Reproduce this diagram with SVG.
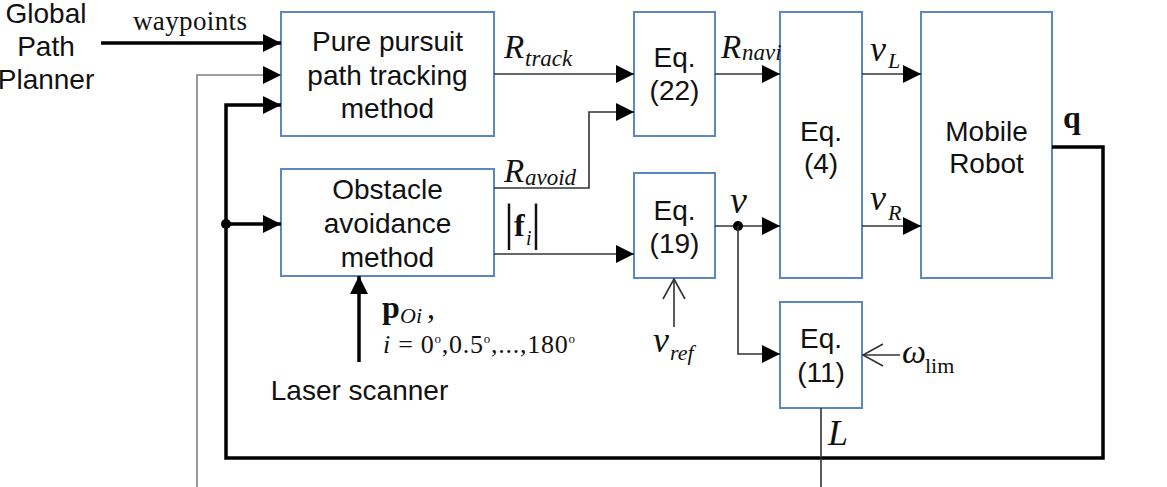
<svg xmlns="http://www.w3.org/2000/svg" width="1167" height="487" viewBox="0 0 1167 487">
<style>
.box{fill:#fff;stroke:#5b87c5;stroke-width:2}
.lbl{font-family:"Liberation Sans",Arial,sans-serif;font-size:28px;fill:#111;text-anchor:middle}
.mi{font-family:"Liberation Serif","Times New Roman",serif;font-style:italic;fill:#111}
.rm{font-family:"Liberation Serif","Times New Roman",serif;fill:#111}
.bd{font-family:"Liberation Serif","Times New Roman",serif;font-weight:bold;fill:#111}
.thin{fill:none;stroke:#333;stroke-width:1.6}
.gray{fill:none;stroke:#808080;stroke-width:1.6}
.thick{fill:none;stroke:#000;stroke-width:3.5}
.open{fill:none;stroke:#333;stroke-width:1.6}
</style>
<defs>
<marker id="ah" markerUnits="userSpaceOnUse" markerWidth="19" markerHeight="18" refX="18" refY="9" orient="auto" viewBox="0 0 19 18">
<path d="M0,0 L18,9 L0,18 z" fill="#000"/>
</marker>
</defs>

<g id="global-planner">
<text class="lbl" x="46" y="23">Global</text>
<text class="lbl" x="46" y="56">Path</text>
<text class="lbl" x="46" y="89">Planner</text>
</g>

<g id="pure-pursuit">
<rect class="box" x="281" y="12" width="213" height="124"/>
<text class="lbl" x="387.5" y="51">Pure pursuit</text>
<text class="lbl" x="387.5" y="85">path tracking</text>
<text class="lbl" x="387.5" y="118">method</text>
</g>

<g id="obstacle-avoidance">
<rect class="box" x="281" y="169" width="213" height="107"/>
<text class="lbl" x="387.5" y="199">Obstacle</text>
<text class="lbl" x="387.5" y="233">avoidance</text>
<text class="lbl" x="387.5" y="267">method</text>
</g>

<g id="eq22">
<rect class="box" x="634" y="12" width="81" height="124"/>
<text class="lbl" x="674.5" y="67">Eq.</text>
<text class="lbl" x="674.5" y="100">(22)</text>
</g>

<g id="eq19">
<rect class="box" x="634" y="173" width="81" height="105"/>
<text class="lbl" x="674.5" y="220">Eq.</text>
<text class="lbl" x="674.5" y="253">(19)</text>
</g>

<g id="eq4">
<rect class="box" x="780" y="12" width="82" height="266"/>
<text class="lbl" x="821" y="141">Eq.</text>
<text class="lbl" x="821" y="173">(4)</text>
</g>

<g id="eq11">
<rect class="box" x="780" y="302" width="82" height="106"/>
<text class="lbl" x="821" y="348">Eq.</text>
<text class="lbl" x="821" y="382">(11)</text>
</g>

<g id="mobile-robot">
<rect class="box" x="921" y="12" width="131" height="266"/>
<text class="lbl" x="986.5" y="141">Mobile</text>
<text class="lbl" x="986.5" y="173">Robot</text>
</g>

<g id="laser-scanner">
<text class="lbl" x="359.5" y="400">Laser scanner</text>
</g>

<g id="connectors">
<path class="thick" d="M101,43 H281" marker-end="url(#ah)"/>
<path class="gray" d="M197,487 V75 H281" marker-end="url(#ah)"/>
<path class="thick" d="M1052,147 H1103 V458 H226 V105 H281" marker-end="url(#ah)"/>
<path class="thick" d="M226,224 H281" marker-end="url(#ah)"/>
<circle cx="226" cy="224" r="5" fill="#000"/>
<path class="thick" d="M359,362 V276" marker-end="url(#ah)"/>
<path class="thin" d="M494,74 H634" marker-end="url(#ah)"/>
<path class="thin" d="M494,188 H589 V112 H634" marker-end="url(#ah)"/>
<path class="thin" d="M494,254 H634" marker-end="url(#ah)"/>
<path class="thin" d="M715,74 H780" marker-end="url(#ah)"/>
<path class="thin" d="M715,226 H780" marker-end="url(#ah)"/>
<circle cx="738" cy="226" r="5" fill="#000"/>
<path class="thin" d="M738,226 V354 H780" marker-end="url(#ah)"/>
<path class="thin" d="M862,74 H921" marker-end="url(#ah)"/>
<path class="thin" d="M862,226 H921" marker-end="url(#ah)"/>
<path class="thin" d="M674,327 V279"/>
<path class="open" d="M663,299 L674,279 L685,299"/>
<path class="thin" d="M900,355 H863"/>
<path class="open" d="M883,344 L863,355 L883,366"/>
<path class="thin" d="M821,408 V487"/>
</g>

<g id="labels">
<text class="rm" x="133" y="30" font-size="27" textLength="114">waypoints</text>
<text class="mi" x="504" y="58" font-size="33">R</text>
<text class="mi" x="525" y="66" font-size="23">track</text>
<text class="mi" x="504" y="182" font-size="33">R</text>
<text class="mi" x="525" y="185" font-size="23">avoid</text>
<text class="rm" x="504" y="239" font-size="50">|</text>
<text class="bd" x="514" y="236" font-size="32">f</text>
<text class="mi" x="526" y="245" font-size="20">i</text>
<text class="rm" x="531" y="239" font-size="50">|</text>
<text class="mi" x="721" y="58" font-size="33">R</text>
<text class="mi" x="742" y="60" font-size="23">navi</text>
<text class="mi" x="870" y="61" font-size="36">v</text>
<text class="mi" x="888" y="68" font-size="22">L</text>
<text class="mi" x="870" y="210" font-size="36">v</text>
<text class="mi" x="888" y="220" font-size="22">R</text>
<text class="mi" x="730" y="213" font-size="38">v</text>
<text class="mi" x="653" y="352" font-size="36">v</text>
<text class="mi" x="670" y="360" font-size="22">ref</text>
<text class="mi" x="902" y="363" font-size="34">ω</text>
<text class="rm" x="925" y="373" font-size="22">lim</text>
<text class="mi" x="828" y="445" font-size="36">L</text>
<text class="bd" x="1063" y="128" font-size="32">q</text>
<text class="bd" x="382" y="318" font-size="32">p</text>
<text class="mi" x="400" y="323" font-size="22">Oi</text>
<text class="rm" x="427" y="318" font-size="32">,</text>
<text class="rm" x="383" y="353" font-size="26" textLength="192"><tspan font-style="italic">i</tspan> = 0<tspan font-size="13" dy="-10">o</tspan><tspan dy="10">,0.5</tspan><tspan font-size="13" dy="-10">o</tspan><tspan dy="10">,...,180</tspan><tspan font-size="13" dy="-10">o</tspan></text>
</g>
</svg>
